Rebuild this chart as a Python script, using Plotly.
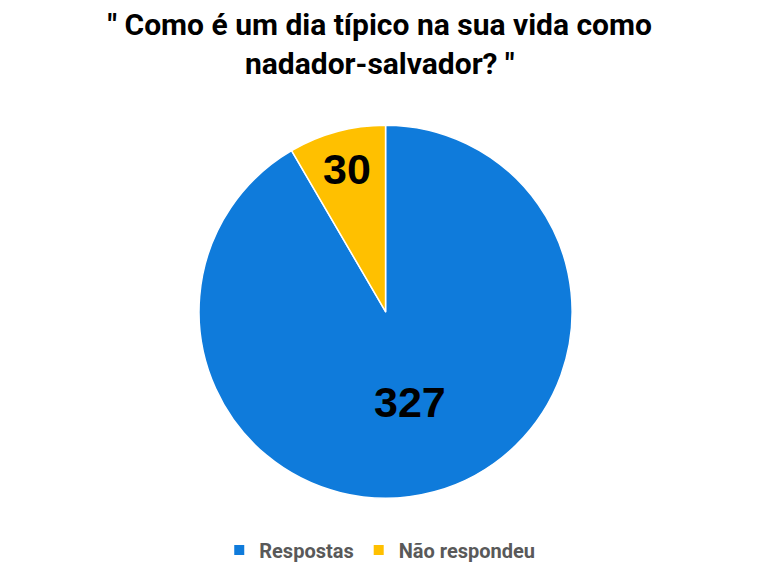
import plotly.graph_objects as go

labels = ["Respostas", "Não respondeu"]
values = [327, 30]
colors = ["#0F7BDB", "#FFC000"]
title_text = "\" Como é um dia típico na sua vida como<br>nadador-salvador? \""

fig = go.Figure(go.Pie(
    labels=labels,
    values=values,
    sort=False,
    direction="clockwise",
    rotation=0,
    marker=dict(colors=colors, line=dict(color="white", width=1.5)),
    textinfo="value",
    textposition="inside",
    insidetextorientation="horizontal",
    textfont=dict(family="Liberation Sans", size=43, color="black", weight="bold"),
    domain=dict(x=[0, 0.995], y=[0.132, 0.782]),
    hoverinfo="label+value",
))

fig.update_layout(
    width=775, height=574,
    margin=dict(l=0, r=0, t=0, b=0),
    paper_bgcolor="white",
    title=dict(text=title_text, x=0.49, xanchor="center", y=0.939, yanchor="top",
               font=dict(family="Roboto", size=30, color="black", weight="bold")),
    showlegend=True,
    legend=dict(orientation="h", x=0.49, xanchor="center", y=0.008, yanchor="bottom",
                font=dict(family="Roboto", size=20, color="#595959", weight="bold"),
                itemsizing="constant", itemwidth=30, traceorder="normal"),
)

fig.write_html("out.html")
